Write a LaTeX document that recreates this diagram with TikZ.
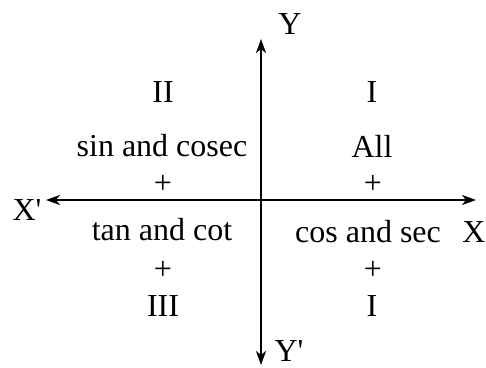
\documentclass[tikz,border=0pt]{standalone}
\usepackage{fontspec}
\setmainfont{Liberation Serif}
\usetikzlibrary{arrows.meta}
\begin{document}
\begin{tikzpicture}[x=1pt,y=-1pt,
  lbl/.style={inner sep=0pt,font=\fontsize{32}{36}\selectfont},
  axis/.style={line width=2.2pt,-{Stealth[length=14pt,width=10pt,inset=4pt]}}]
\useasboundingbox (0,0) rectangle (486,367);
\coordinate (o) at (261,200);
\coordinate (xr) at (476,200);
\coordinate (xl) at (46,200);
\coordinate (yt) at (261,39);
\coordinate (yb) at (261,365);
\draw[axis] (o) -- (xr);
\draw[axis] (o) -- (xl);
\draw[axis] (o) -- (yt);
\draw[axis] (o) -- (yb);
\node[lbl] (Y) at (290,24) {Y};
\node[lbl] (Yp) at (289,351) {Y\textquotesingle};
\node[lbl] (Xp) at (27,210) {X\textquotesingle};
\node[lbl] (X) at (474,232) {X};
\node[lbl] (q2) at (163,92) {II};
\node[lbl] (q1) at (372,92) {I};
\node[lbl] (t2) at (162,146) {sin and cosec};
\node[lbl] (t1) at (372,146) {All};
\node[lbl] (p2) at (163,184) {+};
\node[lbl] (p1) at (373,184) {+};
\node[lbl] (t3) at (162,230) {tan and cot};
\node[lbl] (t4) at (368,232) {cos and sec};
\node[lbl] (p3) at (163,270) {+};
\node[lbl] (p4) at (373,270) {+};
\node[lbl] (q3) at (163,306) {III};
\node[lbl] (q4) at (372,306) {I};
\end{tikzpicture}
\end{document}
